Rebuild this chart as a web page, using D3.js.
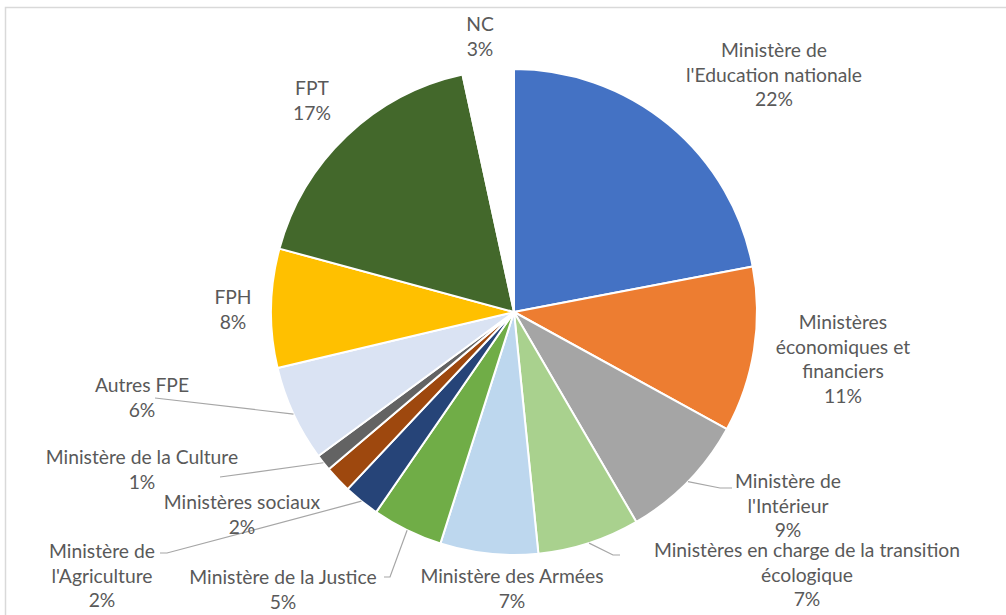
<!DOCTYPE html>
<html>
<head>
<meta charset="utf-8">
<script src="https://cdn.jsdelivr.net/npm/d3@7/dist/d3.min.js"></script>
<style>
  html, body { margin: 0; padding: 0; background: #ffffff; }
  svg { display: block; }
</style>
</head>
<body>
<svg id="chart" width="1006" height="615"></svg>
<script>
// ---- data ----
const categories = [
  "Ministère de l'Education nationale",
  "Ministères économiques et financiers",
  "Ministère de l'Intérieur",
  "Ministères en charge de la transition écologique",
  "Ministère des Armées",
  "Ministère de la Justice",
  "Ministère de l'Agriculture",
  "Ministères sociaux",
  "Ministère de la Culture",
  "Autres FPE",
  "FPH",
  "FPT",
  "NC"
];
const values = [22.0, 11.0, 8.6, 6.8, 6.5, 4.7, 2.4, 1.8, 1.1, 6.4, 7.9, 17.4, 3.4];
const labelLines = [
  ["Ministère de", "l'Education nationale"],
  ["Ministères", "économiques et", "financiers"],
  ["Ministère de", "l'Intérieur"],
  ["Ministères en charge de la transition", "écologique"],
  ["Ministère des Armées"],
  ["Ministère de la Justice"],
  ["Ministère de", "l'Agriculture"],
  ["Ministères sociaux"],
  ["Ministère de la Culture"],
  ["Autres FPE"],
  ["FPH"],
  ["FPT"],
  ["NC"]
];
const colors = ["#4472C4", "#ED7D31", "#A5A5A5", "#A9D18E", "#BDD7EE", "#70AD47",
                "#264478", "#9E480E", "#636363", "#DAE3F3", "#FFC000", "#43682B", "#FFFFFF"];

// ---- layout (positions of labels: center x, first baseline y) ----
const cx = 514, cy = 312, R = 243;
const labelPos = [
  [774, 57], [843, 329], [788, 488], [807, 557], [512, 583], [283, 584],
  [102, 558], [242, 509], [142, 464], [142, 392], [233, 304], [312, 95], [480, 31]
];
// leader line waypoints after the arc start point (null = no leader)
const leaders = [
  null, null,
  [[720, 488], [732, 488]],
  [[613, 555], [620, 555]],
  null,
  [[390, 577], [384, 577]],
  [[167, 553], [160, 553]],
  null,
  [[220, 477]],
  [[155, 398]],
  null, null, null
];

const svg = d3.select("#chart");
const lineH = 24.7;

// chart border
svg.append("rect")
  .attr("x", 5.5).attr("y", 7.5)
  .attr("width", 1100).attr("height", 700)
  .attr("fill", "none").attr("stroke", "#D9D9D9").attr("stroke-width", 1.5);

const total = d3.sum(values);
const pie = d3.pie().sort(null).value(d => d).startAngle(0).endAngle(2 * Math.PI);
const arcs = pie(values);
const arc = d3.arc().innerRadius(0).outerRadius(R);

const g = svg.append("g").attr("transform", `translate(${cx},${cy})`);
g.selectAll("path.slice").data(arcs).enter().append("path")
  .attr("class", "slice")
  .attr("d", arc)
  .attr("fill", (d, i) => colors[i])
  .attr("stroke", "#FFFFFF")
  .attr("stroke-width", 2)
  .attr("stroke-linejoin", "round");

// leader lines
arcs.forEach((d, i) => {
  if (!leaders[i]) return;
  const mid = (d.startAngle + d.endAngle) / 2;
  const sx = cx + R * Math.sin(mid), sy = cy - R * Math.cos(mid);
  const pts = [[sx, sy]].concat(leaders[i]);
  svg.append("path")
    .attr("d", d3.line()(pts))
    .attr("fill", "none")
    .attr("stroke", "#A6A6A6")
    .attr("stroke-width", 1.2);
});

// labels
arcs.forEach((d, i) => {
  const lines = labelLines[i].concat([Math.round(values[i] / total * 100) + "%"]);
  const t = svg.append("text")
    .attr("text-anchor", "middle")
    .attr("font-family", "Lato, 'Open Sans', sans-serif")
    .attr("font-size", 19.3)
    .attr("fill", "#595959");
  lines.forEach((ln, k) => {
    t.append("tspan")
      .attr("x", labelPos[i][0])
      .attr("y", labelPos[i][1] + k * lineH)
      .text(ln);
  });
});
</script>
</body>
</html>
